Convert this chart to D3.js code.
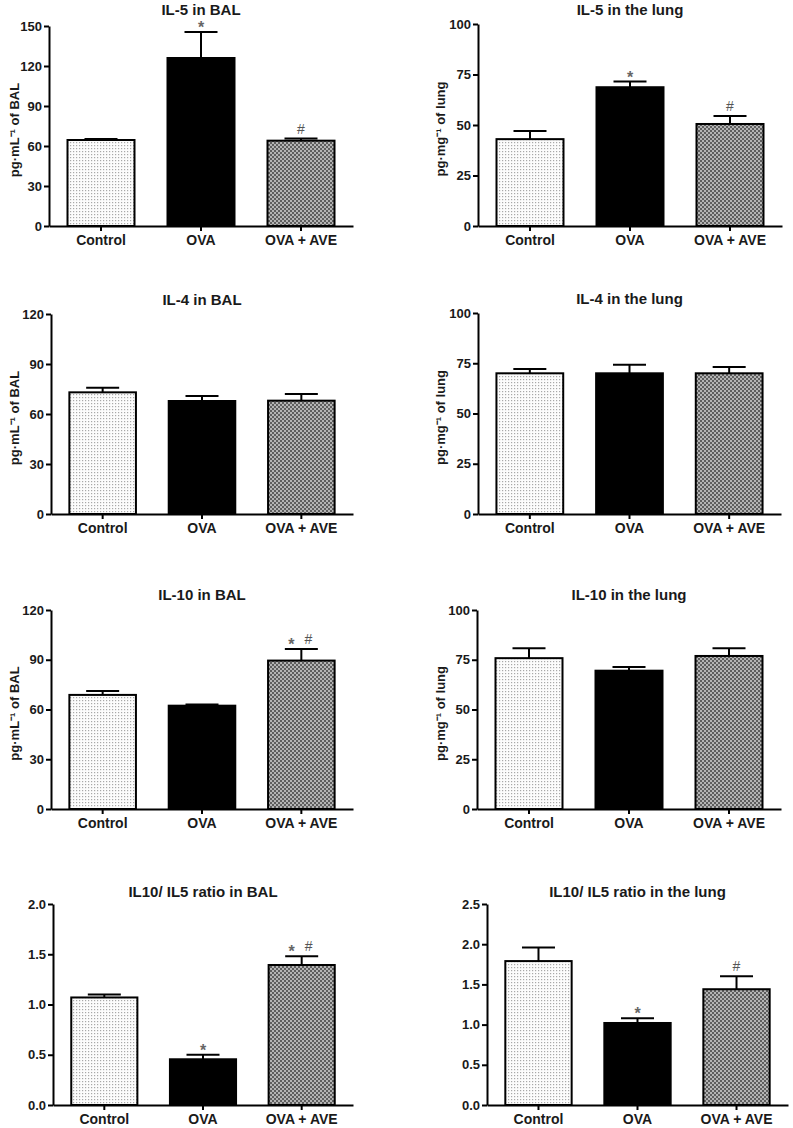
<!DOCTYPE html>
<html>
<head>
<meta charset="utf-8">
<script src="https://cdn.jsdelivr.net/npm/d3@7"></script>
<style>
  html, body { margin: 0; padding: 0; background: #fff; }
  svg { display: block; }
  text { font-family: "Liberation Sans", Arial, sans-serif; font-weight: bold; fill: #1a1a1a; }
</style>
</head>
<body>
<script>
// ---------- DATA ----------
const categories = ["Control", "OVA", "OVA + AVE"];

const titles = ["IL-5 in BAL", "IL-5 in the lung", "IL-4 in BAL", "IL-4 in the lung",
                "IL-10 in BAL", "IL-10 in the lung", "IL10/ IL5 ratio in BAL", "IL10/ IL5 ratio in the lung"];

const yLabels = ["pg·mL⁻¹ of BAL", "pg·mg⁻¹ of lung", "pg·mL⁻¹ of BAL", "pg·mg⁻¹ of lung",
                 "pg·mL⁻¹ of BAL", "pg·mg⁻¹ of lung", "", ""];

const il5BalMean   = [64.5, 126, 64];
const il5BalErr    = [65.3, 145.5, 65.6];
const il5LungMean  = [43, 68.7, 50.5];
const il5LungErr   = [47, 71.5, 54.5];
const il4BalMean   = [73, 67.8, 68];
const il4BalErr    = [75.8, 70.8, 72];
const il4LungMean  = [70, 70, 70];
const il4LungErr   = [72.2, 74.2, 73.1];
const il10BalMean  = [68.8, 62.3, 89.5];
const il10BalErr   = [71.2, 63.0, 96.5];
const il10LungMean = [75.8, 69.5, 76.9];
const il10LungErr  = [80.8, 71.4, 80.8];
const ratioBalMean  = [1.07, 0.455, 1.393];
const ratioBalErr   = [1.10, 0.50, 1.48];
const ratioLungMean = [1.79, 1.02, 1.44];
const ratioLungErr  = [1.96, 1.08, 1.60];

const il5BalTicks   = [0, 30, 60, 90, 120, 150];
const il5LungTicks  = [0, 25, 50, 75, 100];
const il4BalTicks   = [0, 30, 60, 90, 120];
const il4LungTicks  = [0, 25, 50, 75, 100];
const il10BalTicks  = [0, 30, 60, 90, 120];
const il10LungTicks = [0, 25, 50, 75, 100];
const ratioBalTicks  = [0, 0.5, 1.0, 1.5, 2.0];
const ratioLungTicks = [0, 0.5, 1.0, 1.5, 2.0, 2.5];

const il5BalMarks   = ["", "*", "#"];
const il5LungMarks  = ["", "*", "#"];
const il4BalMarks   = ["", "", ""];
const il4LungMarks  = ["", "", ""];
const il10BalMarks  = ["", "", "*#"];
const il10LungMarks = ["", "", ""];
const ratioBalMarks  = ["", "*", "*#"];
const ratioLungMarks = ["", "*", "#"];

const means = [il5BalMean, il5LungMean, il4BalMean, il4LungMean, il10BalMean, il10LungMean, ratioBalMean, ratioLungMean];
const errs  = [il5BalErr, il5LungErr, il4BalErr, il4LungErr, il10BalErr, il10LungErr, ratioBalErr, ratioLungErr];
const ticks = [il5BalTicks, il5LungTicks, il4BalTicks, il4LungTicks, il10BalTicks, il10LungTicks, ratioBalTicks, ratioLungTicks];
const marks = [il5BalMarks, il5LungMarks, il4BalMarks, il4LungMarks, il10BalMarks, il10LungMarks, ratioBalMarks, ratioLungMarks];
const tickFormats = [d3.format("d"), d3.format("d"), d3.format("d"), d3.format("d"), d3.format("d"), d3.format("d"), d3.format(".1f"), d3.format(".1f")];

// ---------- LAYOUT (pixel frames) ----------
const frames = [
  {x0: 49,  x1: 353, yTop: 26,  yBot: 226, labX: 14,  titleY: 15},
  {x0: 478, x1: 782, yTop: 24,  yBot: 226, labX: 440, titleY: 15},
  {x0: 51,  x1: 353, yTop: 314, yBot: 514, labX: 14,  titleY: 305},
  {x0: 478, x1: 781, yTop: 313, yBot: 514, labX: 440, titleY: 304},
  {x0: 51,  x1: 353, yTop: 610, yBot: 809, labX: 14,  titleY: 600},
  {x0: 477, x1: 781, yTop: 610, yBot: 809, labX: 440, titleY: 600},
  {x0: 53,  x1: 353, yTop: 904, yBot: 1105, labX: 14, titleY: 897},
  {x0: 487, x1: 788, yTop: 904, yBot: 1105, labX: 440, titleY: 897}
];

const W = 793, H = 1128;
const svg = d3.select("body").append("svg").attr("width", W).attr("height", H);
svg.append("rect").attr("width", W).attr("height", H).attr("fill", "#fff");

// patterns
const defs = svg.append("defs");
const pCtl = defs.append("pattern").attr("id", "pCtl").attr("patternUnits", "userSpaceOnUse")
  .attr("width", 3).attr("height", 3);
pCtl.append("rect").attr("width", 3).attr("height", 3).attr("fill", "#fcfcfc");
pCtl.append("rect").attr("x", 1).attr("y", 1).attr("width", 1.2).attr("height", 1.2).attr("fill", "#a8a8a8");

const pAve = defs.append("pattern").attr("id", "pAve").attr("patternUnits", "userSpaceOnUse")
  .attr("width", 4).attr("height", 4);
pAve.append("rect").attr("width", 4).attr("height", 4).attr("fill", "#b4b4b4");
pAve.append("rect").attr("x", 0).attr("y", 0).attr("width", 2).attr("height", 2).attr("fill", "#5e5e5e");
pAve.append("rect").attr("x", 2).attr("y", 2).attr("width", 2).attr("height", 2).attr("fill", "#5e5e5e");

const fills = ["url(#pCtl)", "#000", "url(#pAve)"];

frames.forEach((f, i) => {
  const g = svg.append("g");
  const tk = ticks[i];
  const y = d3.scaleLinear().domain([0, tk[tk.length - 1]]).range([f.yBot, f.yTop]);
  const x = d3.scaleBand().domain(categories).range([f.x0, f.x1])
    .paddingInner(0.33).paddingOuter(0.185);

  const data = categories.map((c, j) => ({c, m: means[i][j], e: errs[i][j], mk: marks[i][j], j}));

  // error bars (upper only)
  const capW = 33;
  data.forEach(d => {
    const cx = x(d.c) + x.bandwidth() / 2;
    g.append("line").attr("x1", cx).attr("x2", cx).attr("y1", y(d.m)).attr("y2", y(d.e))
      .attr("stroke", "#000").attr("stroke-width", 2);
    g.append("line").attr("x1", cx - capW / 2).attr("x2", cx + capW / 2).attr("y1", y(d.e)).attr("y2", y(d.e))
      .attr("stroke", "#000").attr("stroke-width", 2);
  });

  // bars
  g.selectAll("rect.bar").data(data).enter().append("rect")
    .attr("class", "bar")
    .attr("x", d => x(d.c))
    .attr("y", d => y(d.m))
    .attr("width", x.bandwidth())
    .attr("height", d => y(0) - y(d.m))
    .attr("fill", d => fills[d.j])
    .attr("stroke", "#000").attr("stroke-width", 2);

  // significance marks
  const star = (sx, ey) => g.append("text").attr("x", sx).attr("y", ey + 1).attr("text-anchor", "middle")
    .style("font-size", "16px").style("fill", "#666").text("*");
  const hash = (sx, ey) => g.append("text").attr("x", sx).attr("y", ey - 5).attr("text-anchor", "middle")
    .style("font-size", "14px").style("font-weight", "normal").style("fill", "#555").text("#");
  data.forEach(d => {
    if (!d.mk) return;
    const cx = x(d.c) + x.bandwidth() / 2;
    const ey = y(d.e);
    if (d.mk === "*#") { star(cx - 10, ey); hash(cx + 7, ey); }
    else if (d.mk === "*") star(cx, ey);
    else hash(cx, ey);
  });

  // y axis
  const yAx = g.append("g").attr("transform", `translate(${f.x0},0)`)
    .call(d3.axisLeft(y).tickValues(tk).tickFormat(tickFormats[i]).tickSize(5).tickSizeOuter(0).tickPadding(2));
  yAx.select(".domain").attr("stroke", "#000").attr("stroke-width", 2);
  yAx.selectAll(".tick line").attr("stroke", "#000").attr("stroke-width", 2);
  yAx.selectAll(".tick text").style("font-size", "13px").style("font-family", "'Liberation Sans', Arial, sans-serif")
    .style("font-weight", "bold").attr("fill", "#1a1a1a");

  // x axis
  const xAx = g.append("g").attr("transform", `translate(0,${f.yBot})`)
    .call(d3.axisBottom(x).tickSize(5).tickSizeOuter(0).tickPadding(4));
  xAx.select(".domain").attr("stroke", "#000").attr("stroke-width", 2);
  xAx.selectAll(".tick line").attr("stroke", "#000").attr("stroke-width", 2);
  xAx.selectAll(".tick text").style("font-size", "14px").style("font-family", "'Liberation Sans', Arial, sans-serif")
    .style("font-weight", "bold").attr("fill", "#1a1a1a");

  // title
  g.append("text").attr("x", (f.x0 + f.x1) / 2).attr("y", f.titleY).attr("text-anchor", "middle")
    .style("font-size", "15px").text(titles[i]);

  // y label
  if (yLabels[i]) {
    const cy = (f.yTop + f.yBot) / 2 + 4;
    g.append("text").attr("transform", `translate(${f.labX},${cy}) rotate(-90)`)
      .attr("text-anchor", "middle").attr("dy", "0.35em")
      .style("font-size", "13px").text(yLabels[i]);
  }
});
</script>
</body>
</html>
